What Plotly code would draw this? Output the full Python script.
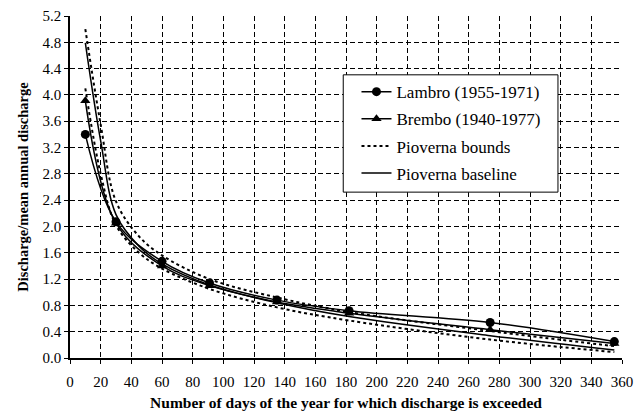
import plotly.graph_objects as go

# Data
days = [10, 30, 60, 91, 135, 182, 274, 355]
lambro = [3.40, 2.07, 1.47, 1.14, 0.88, 0.72, 0.54, 0.25]
brembo = [3.91, 2.05, 1.40, 1.10, 0.85, 0.68, 0.43, 0.22]

pio_days = [10, 20, 30, 45, 60, 91, 135, 182, 274, 355]
pio_base = [4.79, 3.30, 2.18, 1.70, 1.43, 1.11, 0.84, 0.63, 0.34, 0.12]
pio_upper = [5.00, 3.55, 2.38, 1.85, 1.56, 1.20, 0.92, 0.70, 0.41, 0.18]
pio_lower = [4.10, 2.80, 2.02, 1.60, 1.36, 1.05, 0.77, 0.57, 0.28, 0.09]

x_ticks = list(range(0, 361, 20))
y_ticks = [round(0.4 * i, 1) for i in range(14)]
y_labels = [f"{v:.1f}" for v in y_ticks]

FONT = "Times New Roman, Liberation Serif, serif"

fig = go.Figure()

fig.add_trace(go.Scatter(
    x=pio_days, y=pio_upper, mode="lines", name="Pioverna bounds",
    line=dict(color="black", width=2, dash="3px,3px", shape="spline"),
    legendgroup="c", legendrank=3))
fig.add_trace(go.Scatter(
    x=pio_days, y=pio_lower, mode="lines", name="Pioverna bounds",
    line=dict(color="black", width=2, dash="3px,3px", shape="spline"),
    legendgroup="c", showlegend=False))
fig.add_trace(go.Scatter(
    x=pio_days, y=pio_base, mode="lines", name="Pioverna baseline",
    line=dict(color="black", width=1.5, shape="spline"),
    legendgroup="d", legendrank=4))
fig.add_trace(go.Scatter(
    x=days, y=brembo, mode="lines+markers", name="Brembo (1940-1977)",
    line=dict(color="black", width=1.5, shape="spline"),
    marker=dict(symbol="triangle-up", size=9, color="black"),
    legendgroup="b", legendrank=2))
fig.add_trace(go.Scatter(
    x=days, y=lambro, mode="lines+markers", name="Lambro (1955-1971)",
    line=dict(color="black", width=1.5, shape="spline"),
    marker=dict(symbol="circle", size=9, color="black"),
    legendgroup="a", legendrank=1))

# legend frame (layout decoration, paper coordinates)
fig.add_shape(type="rect", xref="paper", yref="paper",
              x0=0.495, x1=0.884, y0=0.485, y1=0.828,
              line=dict(color="black", width=1), fillcolor="white",
              layer="above")

fig.update_layout(
    width=635, height=416,
    margin=dict(l=70, r=13, t=16, b=58, autoexpand=False),
    paper_bgcolor="white", plot_bgcolor="white",
    font=dict(family=FONT, color="black", size=15),
    showlegend=True,
    legend=dict(
        x=0.519, y=0.83, xanchor="left", yanchor="top",
        bgcolor="rgba(0,0,0,0)", borderwidth=0,
        font=dict(family=FONT, size=17, color="black"),
        traceorder="grouped", tracegroupgap=2,
        itemwidth=30,
    ),
)

fig.update_xaxes(
    range=[0, 360], tickvals=x_ticks, ticktext=[str(v) for v in x_ticks],
    showgrid=True, gridcolor="black", gridwidth=1, griddash="5px,3px",
    showline=True, linecolor="black", linewidth=1.5,
    ticks="outside", ticklen=4, tickcolor="black",
    ticklabelstandoff=5,
    zeroline=False, automargin=False,
    tickfont=dict(family=FONT, size=15),
    title=dict(text="<b>Number of days of the year for which discharge is exceeded</b>",
               font=dict(family=FONT, size=15.5), standoff=8),
)
fig.update_yaxes(
    range=[0, 5.2], tickvals=y_ticks, ticktext=y_labels,
    showgrid=True, gridcolor="black", gridwidth=1, griddash="5px,3px",
    showline=True, linecolor="black", linewidth=1.5,
    ticks="outside", ticklen=4, tickcolor="black",
    zeroline=False, automargin=False,
    tickfont=dict(family=FONT, size=15),
    title=dict(text="<b>Discharge/mean annual discharge</b>",
               font=dict(family=FONT, size=14.5), standoff=10),
)

fig.write_html("out.html", config={"displayModeBar": False},
               post_script="document.body.style.margin='0';")
